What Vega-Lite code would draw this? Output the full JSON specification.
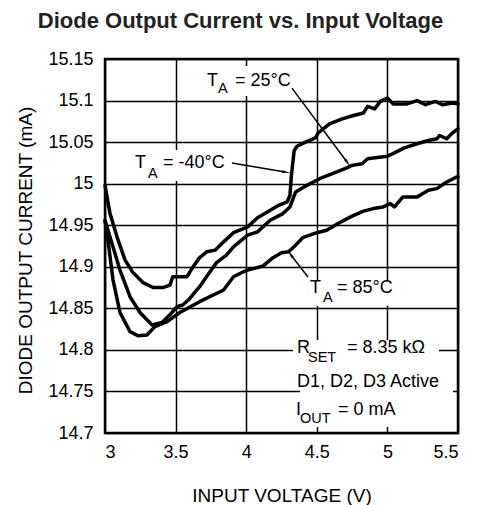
{
  "$schema": "https://vega.github.io/schema/vega-lite/v6.json",
  "width": 353,
  "height": 374,
  "autosize": {"type": "none"},
  "padding": {"left": 105, "top": 59, "right": 23, "bottom": 72},
  "background": "white",
  "title": {"text": "Diode Output Current vs. Input Voltage", "fontSize": 22, "fontWeight": "bold", "font": "Liberation Sans", "color": "#222222", "anchor": "middle", "dx": -41, "offset": 17},
  "config": {
    "font": "Liberation Sans",
    "view": {"stroke": "black", "strokeWidth": 2.5},
    "axis": {"grid": true, "gridColor": "black", "gridWidth": 1.5, "gridOpacity": 1, "domain": false, "ticks": false, "labelColor": "black", "labelFontSize": 18, "titleFontSize": 19, "titleFontWeight": "normal", "titleColor": "black", "labelFont": "Liberation Sans", "titleFont": "Liberation Sans"},
    "axisX": {"labelPadding": 10, "titlePadding": 25},
    "axisY": {"labelPadding": 12}
  },
  "datasets": {
    "curves": [
      {"s": "-40", "x": 3.0, "y": 14.998}, {"s": "-40", "x": 3.035, "y": 14.9645}, {"s": "-40", "x": 3.085, "y": 14.936}, {"s": "-40", "x": 3.142, "y": 14.908}, {"s": "-40", "x": 3.198, "y": 14.893}, {"s": "-40", "x": 3.269, "y": 14.881}, {"s": "-40", "x": 3.34, "y": 14.875}, {"s": "-40", "x": 3.41, "y": 14.875}, {"s": "-40", "x": 3.46, "y": 14.878}, {"s": "-40", "x": 3.48, "y": 14.888}, {"s": "-40", "x": 3.58, "y": 14.888}, {"s": "-40", "x": 3.62, "y": 14.899}, {"s": "-40", "x": 3.67, "y": 14.911}, {"s": "-40", "x": 3.72, "y": 14.918}, {"s": "-40", "x": 3.78, "y": 14.92}, {"s": "-40", "x": 3.84, "y": 14.93}, {"s": "-40", "x": 3.91, "y": 14.941}, {"s": "-40", "x": 4.01, "y": 14.948}, {"s": "-40", "x": 4.08, "y": 14.959}, {"s": "-40", "x": 4.15, "y": 14.966}, {"s": "-40", "x": 4.23, "y": 14.974}, {"s": "-40", "x": 4.29, "y": 14.978}, {"s": "-40", "x": 4.31, "y": 14.986}, {"s": "-40", "x": 4.32, "y": 15.01}, {"s": "-40", "x": 4.34, "y": 15.04}, {"s": "-40", "x": 4.36, "y": 15.045}, {"s": "-40", "x": 4.42, "y": 15.05}, {"s": "-40", "x": 4.49, "y": 15.055}, {"s": "-40", "x": 4.51, "y": 15.061}, {"s": "-40", "x": 4.59, "y": 15.072}, {"s": "-40", "x": 4.68, "y": 15.078}, {"s": "-40", "x": 4.76, "y": 15.082}, {"s": "-40", "x": 4.83, "y": 15.085}, {"s": "-40", "x": 4.86, "y": 15.093}, {"s": "-40", "x": 4.91, "y": 15.09}, {"s": "-40", "x": 4.95, "y": 15.099}, {"s": "-40", "x": 5.0, "y": 15.103}, {"s": "-40", "x": 5.04, "y": 15.096}, {"s": "-40", "x": 5.14, "y": 15.096}, {"s": "-40", "x": 5.21, "y": 15.1}, {"s": "-40", "x": 5.27, "y": 15.095}, {"s": "-40", "x": 5.34, "y": 15.099}, {"s": "-40", "x": 5.39, "y": 15.095}, {"s": "-40", "x": 5.46, "y": 15.097}, {"s": "-40", "x": 5.5, "y": 15.096},
      {"s": "25", "x": 3.0, "y": 14.956}, {"s": "25", "x": 3.035, "y": 14.936}, {"s": "25", "x": 3.106, "y": 14.896}, {"s": "25", "x": 3.177, "y": 14.864}, {"s": "25", "x": 3.248, "y": 14.845}, {"s": "25", "x": 3.333, "y": 14.83}, {"s": "25", "x": 3.404, "y": 14.833}, {"s": "25", "x": 3.475, "y": 14.845}, {"s": "25", "x": 3.51, "y": 14.852}, {"s": "25", "x": 3.55, "y": 14.854}, {"s": "25", "x": 3.59, "y": 14.86}, {"s": "25", "x": 3.67, "y": 14.876}, {"s": "25", "x": 3.74, "y": 14.893}, {"s": "25", "x": 3.79, "y": 14.905}, {"s": "25", "x": 3.86, "y": 14.914}, {"s": "25", "x": 3.91, "y": 14.924}, {"s": "25", "x": 4.01, "y": 14.938}, {"s": "25", "x": 4.08, "y": 14.942}, {"s": "25", "x": 4.17, "y": 14.956}, {"s": "25", "x": 4.26, "y": 14.964}, {"s": "25", "x": 4.31, "y": 14.972}, {"s": "25", "x": 4.35, "y": 14.99}, {"s": "25", "x": 4.43, "y": 14.998}, {"s": "25", "x": 4.52, "y": 15.006}, {"s": "25", "x": 4.61, "y": 15.012}, {"s": "25", "x": 4.7, "y": 15.018}, {"s": "25", "x": 4.75, "y": 15.022}, {"s": "25", "x": 4.82, "y": 15.024}, {"s": "25", "x": 4.86, "y": 15.03}, {"s": "25", "x": 4.9, "y": 15.031}, {"s": "25", "x": 5.0, "y": 15.033}, {"s": "25", "x": 5.05, "y": 15.037}, {"s": "25", "x": 5.12, "y": 15.043}, {"s": "25", "x": 5.21, "y": 15.048}, {"s": "25", "x": 5.29, "y": 15.052}, {"s": "25", "x": 5.35, "y": 15.054}, {"s": "25", "x": 5.37, "y": 15.058}, {"s": "25", "x": 5.42, "y": 15.054}, {"s": "25", "x": 5.46, "y": 15.061}, {"s": "25", "x": 5.5, "y": 15.066},
      {"s": "85", "x": 3.0, "y": 14.955}, {"s": "85", "x": 3.014, "y": 14.941}, {"s": "85", "x": 3.057, "y": 14.884}, {"s": "85", "x": 3.106, "y": 14.845}, {"s": "85", "x": 3.177, "y": 14.822}, {"s": "85", "x": 3.234, "y": 14.817}, {"s": "85", "x": 3.297, "y": 14.818}, {"s": "85", "x": 3.354, "y": 14.828}, {"s": "85", "x": 3.44, "y": 14.834}, {"s": "85", "x": 3.53, "y": 14.845}, {"s": "85", "x": 3.67, "y": 14.858}, {"s": "85", "x": 3.84, "y": 14.872}, {"s": "85", "x": 3.91, "y": 14.888}, {"s": "85", "x": 3.98, "y": 14.894}, {"s": "85", "x": 4.01, "y": 14.896}, {"s": "85", "x": 4.12, "y": 14.901}, {"s": "85", "x": 4.19, "y": 14.911}, {"s": "85", "x": 4.25, "y": 14.917}, {"s": "85", "x": 4.3, "y": 14.918}, {"s": "85", "x": 4.35, "y": 14.926}, {"s": "85", "x": 4.4, "y": 14.935}, {"s": "85", "x": 4.5, "y": 14.941}, {"s": "85", "x": 4.57, "y": 14.944}, {"s": "85", "x": 4.66, "y": 14.953}, {"s": "85", "x": 4.75, "y": 14.961}, {"s": "85", "x": 4.83, "y": 14.967}, {"s": "85", "x": 4.9, "y": 14.97}, {"s": "85", "x": 4.97, "y": 14.972}, {"s": "85", "x": 5.02, "y": 14.976}, {"s": "85", "x": 5.05, "y": 14.972}, {"s": "85", "x": 5.11, "y": 14.984}, {"s": "85", "x": 5.21, "y": 14.984}, {"s": "85", "x": 5.29, "y": 14.992}, {"s": "85", "x": 5.35, "y": 14.994}, {"s": "85", "x": 5.42, "y": 15.002}, {"s": "85", "x": 5.49, "y": 15.008}, {"s": "85", "x": 5.5, "y": 15.008}
    ],
    "boxes": [
      {"x": 3.694, "x2": 4.36, "y": 15.1416, "y2": 15.1055},
      {"x": 3.177, "x2": 3.885, "y": 15.0405, "y2": 15.0032},
      {"x": 4.4235, "x2": 5.089, "y": 14.884, "y2": 14.853},
      {"x": 4.331, "x2": 5.3654, "y": 14.8119, "y2": 14.7878},
      {"x": 4.381, "x2": 5.4646, "y": 14.7878, "y2": 14.7072}
    ],
    "labels": [
      {"x": 3.722, "y": 15.1175, "text": "T"}, {"x": 3.921, "y": 15.1175, "text": "= 25°C"},
      {"x": 3.2125, "y": 15.0185, "text": "T"}, {"x": 3.411, "y": 15.0185, "text": "= -40°C"},
      {"x": 4.452, "y": 14.8684, "text": "T"}, {"x": 4.643, "y": 14.8684, "text": "= 85°C"},
      {"x": 4.36, "y": 14.7963, "text": "R"}, {"x": 4.714, "y": 14.7963, "text": "= 8.35 kΩ"},
      {"x": 4.36, "y": 14.7557, "text": "D1, D2, D3 Active"},
      {"x": 4.353, "y": 14.7217, "text": "I"}, {"x": 4.65, "y": 14.7217, "text": "= 0 mA"}
    ],
    "subs": [
      {"x": 3.8, "y": 15.109, "text": "A"}, {"x": 3.3045, "y": 15.0068, "text": "A"}, {"x": 4.544, "y": 14.8576, "text": "A"},
      {"x": 4.4377, "y": 14.7854, "text": "SET"}, {"x": 4.381, "y": 14.712, "text": "OUT"}
    ],
    "arrows": [
      {"x": 4.324, "y": 15.115, "x2": 4.714, "y2": 15.0261},
      {"x": 3.899, "y": 15.0249, "x2": 4.275, "y2": 15.014},
      {"x": 4.4377, "y": 14.8877, "x2": 4.317, "y2": 14.9142}
    ]
  },
  "layer": [
    {
      "data": {"name": "boxes"},
      "mark": {"type": "rect", "fill": "white", "stroke": null},
      "encoding": {
        "x": {"field": "x", "type": "quantitative", "scale": {"domain": [3, 5.5], "nice": false, "zero": false}, "axis": {"title": "INPUT VOLTAGE (V)", "values": [3, 3.5, 4, 4.5, 5, 5.5], "format": "~g"}},
        "x2": {"field": "x2"},
        "y": {"field": "y", "type": "quantitative", "scale": {"domain": [14.7, 15.15], "nice": false, "zero": false}, "axis": {"title": "DIODE OUTPUT CURRENT (mA)", "values": [14.7, 14.75, 14.8, 14.85, 14.9, 14.95, 15, 15.05, 15.1, 15.15], "format": "~g", "titleX": -80, "titleY": 191, "titleBaseline": "middle"}},
        "y2": {"field": "y2"}
      }
    },
    {
      "data": {"name": "curves"},
      "mark": {"type": "line", "color": "black", "strokeWidth": 3.5, "strokeJoin": "round", "strokeCap": "round"},
      "encoding": {
        "x": {"field": "x", "type": "quantitative"},
        "y": {"field": "y", "type": "quantitative"},
        "detail": {"field": "s", "type": "nominal"}
      }
    },
    {
      "data": {"name": "arrows"},
      "mark": {"type": "rule", "color": "black", "strokeWidth": 1.5},
      "encoding": {
        "x": {"field": "x", "type": "quantitative"},
        "y": {"field": "y", "type": "quantitative"},
        "x2": {"field": "x2"},
        "y2": {"field": "y2"}
      }
    },
    {
      "data": {"values": [{"x": 4.714, "y": 15.0261}]},
      "mark": {"type": "point", "shape": "wedge", "filled": true, "color": "black", "size": 110, "angle": 143, "opacity": 1},
      "encoding": {"x": {"field": "x", "type": "quantitative"}, "y": {"field": "y", "type": "quantitative"}}
    },
    {
      "data": {"values": [{"x": 4.275, "y": 15.014}]},
      "mark": {"type": "point", "shape": "wedge", "filled": true, "color": "black", "size": 110, "angle": 100, "opacity": 1},
      "encoding": {"x": {"field": "x", "type": "quantitative"}, "y": {"field": "y", "type": "quantitative"}}
    },
    {
      "data": {"values": [{"x": 4.317, "y": 14.9142}]},
      "mark": {"type": "point", "shape": "wedge", "filled": true, "color": "black", "size": 110, "angle": -37, "opacity": 1},
      "encoding": {"x": {"field": "x", "type": "quantitative"}, "y": {"field": "y", "type": "quantitative"}}
    },
    {
      "data": {"name": "labels"},
      "mark": {"type": "text", "align": "left", "baseline": "alphabetic", "fontSize": 18, "color": "black"},
      "encoding": {"x": {"field": "x", "type": "quantitative"}, "y": {"field": "y", "type": "quantitative"}, "text": {"field": "text"}}
    },
    {
      "data": {"name": "subs"},
      "mark": {"type": "text", "align": "left", "baseline": "alphabetic", "fontSize": 14.5, "color": "black"},
      "encoding": {"x": {"field": "x", "type": "quantitative"}, "y": {"field": "y", "type": "quantitative"}, "text": {"field": "text"}}
    }
  ]
}
